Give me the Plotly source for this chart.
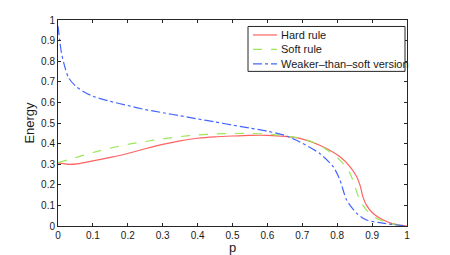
import plotly.graph_objects as go

p_hard = [0, 0.03, 0.06, 0.1, 0.15, 0.2, 0.25, 0.3, 0.35, 0.4, 0.45, 0.5, 0.55, 0.6, 0.65, 0.693, 0.75, 0.808, 0.837, 0.856, 0.866, 0.874, 0.884, 0.903, 0.932, 0.961, 0.985, 1.0]
e_hard = [0.306, 0.299, 0.303, 0.316, 0.333, 0.352, 0.375, 0.396, 0.413, 0.426, 0.433, 0.437, 0.44, 0.44, 0.435, 0.425, 0.392, 0.336, 0.287, 0.239, 0.195, 0.14, 0.1, 0.061, 0.029, 0.01, 0.003, 0.0]

p_soft = [0, 0.05, 0.1, 0.15, 0.2, 0.25, 0.3, 0.35, 0.4, 0.45, 0.5, 0.55, 0.6, 0.65, 0.7, 0.75, 0.808, 0.837, 0.851, 0.865, 0.884, 0.913, 0.942, 0.97, 1.0]
e_soft = [0.308, 0.332, 0.357, 0.378, 0.396, 0.41, 0.423, 0.434, 0.442, 0.447, 0.449, 0.449, 0.446, 0.438, 0.424, 0.392, 0.32, 0.255, 0.19, 0.126, 0.077, 0.037, 0.019, 0.006, 0.0]

p_weak = [0, 0.005, 0.01, 0.02, 0.03, 0.05, 0.075, 0.1, 0.15, 0.2, 0.25, 0.3, 0.35, 0.4, 0.45, 0.5, 0.55, 0.6, 0.65, 0.693, 0.75, 0.789, 0.808, 0.827, 0.856, 0.884, 0.923, 0.96, 1.0]
e_weak = [0.97, 0.9, 0.84, 0.77, 0.72, 0.68, 0.65, 0.63, 0.605, 0.585, 0.565, 0.55, 0.535, 0.52, 0.505, 0.49, 0.475, 0.46, 0.44, 0.408, 0.352, 0.287, 0.223, 0.126, 0.061, 0.029, 0.016, 0.007, 0.0]

series_names = ["Hard rule", "Soft rule", "Weaker\u2013than\u2013soft version"]
series_colors = ["#ff6262", "#9be85a", "#4466ff"]
series_dash = ["solid", "dash", "dashdot"]

x_ticks = [0, 0.1, 0.2, 0.3, 0.4, 0.5, 0.6, 0.7, 0.8, 0.9, 1]
y_ticks = [0, 0.1, 0.2, 0.3, 0.4, 0.5, 0.6, 0.7, 0.8, 0.9, 1]

FONT = "Liberation Sans, Arial, Helvetica"
OFF = 8  # page body margin
W, H = 442, 247
# plot area in page pixels: x 58..407, y 19.5..226
ML = 58 - OFF
MR = W - (407 - OFF)
MT = 19.5 - OFF
MB = H - (226 - OFF)
PW, PH = W - ML - MR, H - MT - MB


def px2paper(x, y):
    # page pixel coords -> paper coords
    return (x - OFF - ML) / PW, (H - MB - (y - OFF)) / PH


fig = go.Figure()
for px_, ey, nm, col, ds in zip([p_hard, p_soft, p_weak], [e_hard, e_soft, e_weak],
                                 series_names, series_colors, series_dash):
    fig.add_trace(go.Scatter(x=px_, y=ey, mode="lines", name=nm, showlegend=False,
                             line=dict(color=col, width=1.2, dash=ds, shape="spline", smoothing=0.7)))

axis_common = dict(
    showgrid=False, zeroline=False, showline=True, linecolor="#262626", linewidth=1,
    mirror="ticks", ticks="inside", ticklen=3, tickcolor="#262626", automargin=False,
    tickfont=dict(family=FONT, size=10, color="#1a1a1a"),
    range=[0, 1],
)

shapes = []
annotations = []
x0, y0 = px2paper(248, 71)
x1, y1 = px2paper(405, 26)
shapes.append(dict(type="rect", xref="paper", yref="paper", x0=x0, y0=y0, x1=x1, y1=y1,
                   line=dict(color="#262626", width=1), fillcolor="white", layer="above"))
rows = [34.5, 49, 63.5]
for nm, col, ds, ry in zip(series_names, series_colors, series_dash, rows):
    lx0, ly = px2paper(253, ry)
    lx1, _ = px2paper(277, ry)
    shapes.append(dict(type="line", xref="paper", yref="paper", x0=lx0, x1=lx1, y0=ly, y1=ly,
                       line=dict(color=col, width=1.2, dash=ds), layer="above"))
    tx, _ = px2paper(279, ry)
    annotations.append(dict(xref="paper", yref="paper", x=tx, y=ly, text=nm, showarrow=False,
                            xanchor="left", yanchor="middle",
                            font=dict(family=FONT, size=11, color="#1a1a1a")))

fig.update_layout(
    width=W, height=H,
    margin=dict(l=ML, r=MR, t=MT, b=MB),
    paper_bgcolor="white", plot_bgcolor="white",
    xaxis=dict(**axis_common, tickvals=x_ticks, ticktext=[str(v) for v in x_ticks],
               title=dict(text="p", font=dict(family=FONT, size=13, color="#1a1a1a"), standoff=1)),
    yaxis=dict(**axis_common, tickvals=y_ticks, ticktext=[str(v) for v in y_ticks],
               title=dict(text="Energy", font=dict(family=FONT, size=13, color="#1a1a1a"), standoff=3)),
    shapes=shapes, annotations=annotations,
    showlegend=False,
)

fig.write_html("out.html")
